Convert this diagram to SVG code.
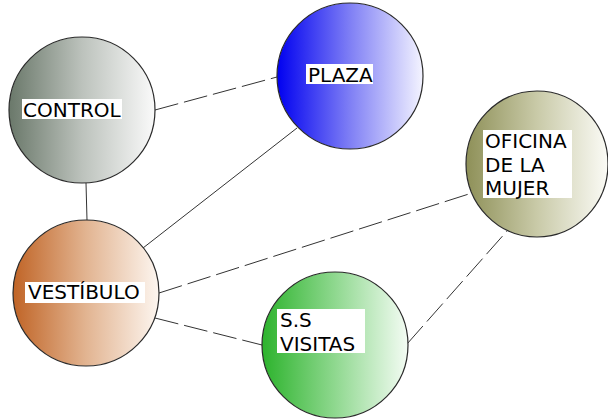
<svg xmlns="http://www.w3.org/2000/svg" width="608" height="419" viewBox="0 0 608 419">
<style>
.node{stroke:#2a2a2a;stroke-width:1.2}
.lbl{fill:#ffffff}
text{font-family:"DejaVu Sans",Verdana,sans-serif;font-size:20px;fill:#000}
.c{stroke:#333;stroke-width:1;fill:none}
.d{stroke-dasharray:24 6}
</style>
<defs>
<linearGradient id="gControl" x1="0" y1="0" x2="1" y2="0">
<stop offset="0" stop-color="#6a786a"/>
<stop offset="0.5" stop-color="#bcc2bc"/>
<stop offset="1" stop-color="#fafafa"/>
</linearGradient>
<linearGradient id="gPlaza" x1="0" y1="0" x2="1" y2="0">
<stop offset="0" stop-color="#0000f0"/>
<stop offset="0.5" stop-color="#7f7ff5"/>
<stop offset="1" stop-color="#f4f4ff"/>
</linearGradient>
<linearGradient id="gOficina" x1="0" y1="0" x2="1" y2="0">
<stop offset="0" stop-color="#8e9058"/>
<stop offset="0.5" stop-color="#c9caa8"/>
<stop offset="1" stop-color="#fbfbf6"/>
</linearGradient>
<linearGradient id="gVest" x1="0" y1="0" x2="1" y2="0">
<stop offset="0" stop-color="#c06426"/>
<stop offset="0.5" stop-color="#e2b491"/>
<stop offset="1" stop-color="#fdf6f0"/>
</linearGradient>
<linearGradient id="gSS" x1="0" y1="0" x2="1" y2="0">
<stop offset="0" stop-color="#2cb32c"/>
<stop offset="0.5" stop-color="#8fd88f"/>
<stop offset="1" stop-color="#f4fcf4"/>
</linearGradient>
</defs>
<g id="connectors">
<line class="c d" x1="155" y1="110" x2="277" y2="77"/>
<line class="c" x1="86" y1="183" x2="87" y2="220"/>
<line class="c" x1="297" y1="128" x2="143" y2="248"/>
<line class="c d" x1="159" y1="293" x2="472" y2="193"/>
<line class="c d" x1="155" y1="318" x2="262" y2="345"/>
<line class="c d" x1="407" y1="344" x2="507" y2="231"/>
</g>
<g id="control">
<circle class="node" cx="82" cy="110" r="73" fill="url(#gControl)"/>
<rect class="lbl" x="22" y="99" width="100" height="20"/>
<text x="23" y="117">CONTROL</text>
</g>
<g id="plaza">
<circle class="node" cx="350" cy="76" r="73" fill="url(#gPlaza)"/>
<rect class="lbl" x="306" y="64" width="67" height="20"/>
<text x="308" y="82">PLAZA</text>
</g>
<g id="oficina">
<ellipse class="node" cx="537" cy="164" rx="71" ry="73" fill="url(#gOficina)"/>
<rect class="lbl" x="483" y="130" width="89" height="68"/>
<text x="485" y="148">OFICINA</text>
<text x="485" y="172">DE LA</text>
<text x="485" y="195">MUJER</text>
</g>
<g id="vestibulo">
<circle class="node" cx="86" cy="293" r="73" fill="url(#gVest)"/>
<rect class="lbl" x="25" y="282" width="120" height="21"/>
<text x="28" y="299">VESTÍBULO</text>
</g>
<g id="ssvisitas">
<circle class="node" cx="335" cy="345" r="73" fill="url(#gSS)"/>
<rect class="lbl" x="277" y="309" width="88" height="44"/>
<text x="280" y="327">S.S</text>
<text x="280" y="351">VISITAS</text>
</g>
</svg>
